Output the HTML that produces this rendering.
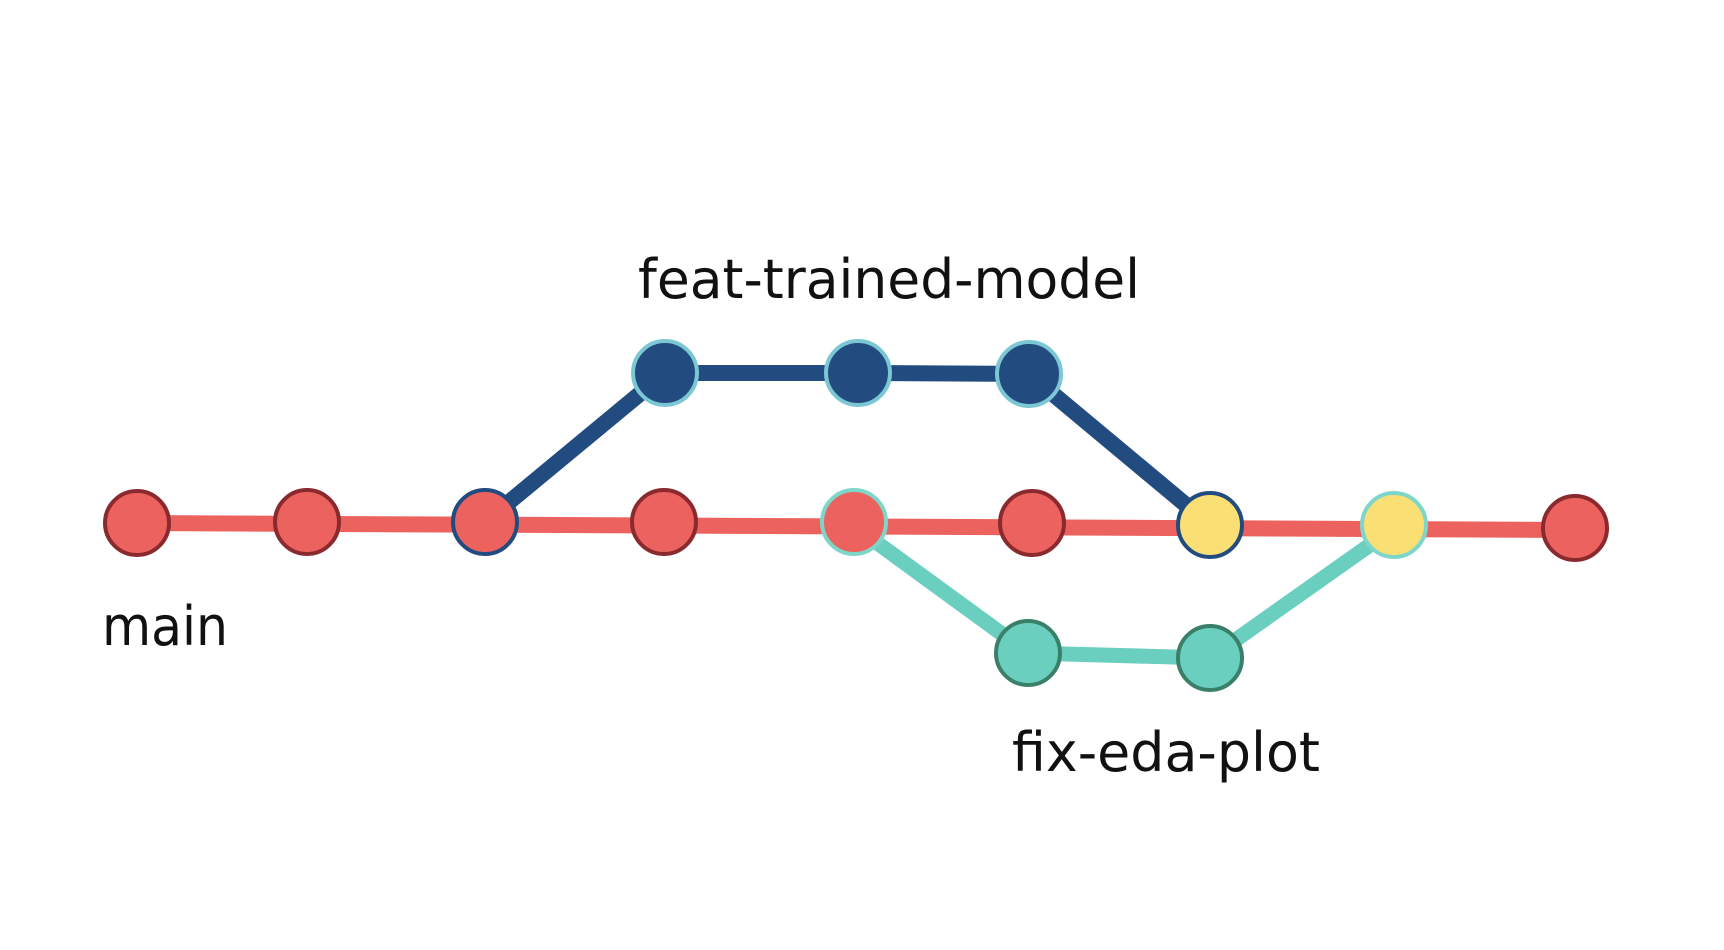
<!DOCTYPE html>
<html><head><style>html,body{margin:0;padding:0;background:#fff;}svg{display:block}</style></head>
<body>
<svg width="1724" height="950" viewBox="0 0 1724 950" xmlns="http://www.w3.org/2000/svg">
<rect width="1724" height="950" fill="#fff"/>
<g stroke-linecap="butt" fill="none">
<line x1="137" y1="523" x2="1575" y2="530" stroke="#EC625E" stroke-width="16"/>
<polyline points="485,522 665,373 858,373 1029,374 1210,525" stroke="#224B7F" stroke-width="16"/>
<polyline points="854,526 1028,653 1210,658 1394,528" stroke="#6BCFC0" stroke-width="15"/>
</g>
<g stroke-width="4">
<circle cx="137" cy="523" r="32" fill="#EC625E" stroke="#8B2A2E"/>
<circle cx="307" cy="522" r="32" fill="#EC625E" stroke="#8B2A2E"/>
<circle cx="485" cy="522" r="32" fill="#EC625E" stroke="#224B7F"/>
<circle cx="664" cy="522" r="32" fill="#EC625E" stroke="#8B2A2E"/>
<circle cx="854" cy="522" r="32" fill="#EC625E" stroke="#7ED6CB"/>
<circle cx="1032" cy="523" r="32" fill="#EC625E" stroke="#8B2A2E"/>
<circle cx="1210" cy="525" r="32" fill="#FADF74" stroke="#224B7F"/>
<circle cx="1394" cy="525" r="32" fill="#FADF74" stroke="#7ED6CB"/>
<circle cx="1575" cy="528" r="32" fill="#EC625E" stroke="#8B2A2E"/>
<circle cx="665" cy="373" r="32" fill="#224B7F" stroke="#7CC7D4"/>
<circle cx="858" cy="373" r="32" fill="#224B7F" stroke="#7CC7D4"/>
<circle cx="1029" cy="374" r="32" fill="#224B7F" stroke="#7CC7D4"/>
<circle cx="1028" cy="653" r="32" fill="#6BCFC0" stroke="#3A8069"/>
<circle cx="1210" cy="658" r="32" fill="#6BCFC0" stroke="#3A8069"/>
</g>
<g font-family="'DejaVu Sans','Liberation Sans',sans-serif" font-size="54" fill="#111">
<text x="638" y="298" textLength="502" lengthAdjust="spacingAndGlyphs">feat-trained-model</text>
<text x="102" y="645" textLength="126" lengthAdjust="spacingAndGlyphs">main</text>
<text x="1012" y="771" textLength="308" lengthAdjust="spacingAndGlyphs">fix-eda-plot</text>
</g>
</svg>
</body></html>
